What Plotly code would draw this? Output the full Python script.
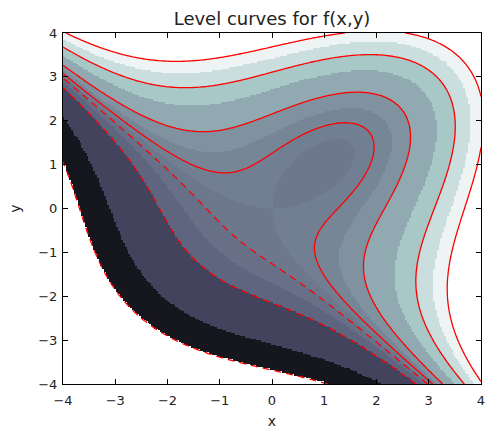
import numpy as np
import plotly.graph_objects as go

# ---- data ----
x_min, x_max, n_pts = -4.0, 4.0, 241
fill_levels = [-50, -30, -10, -5, -2, 0, 2, 5, 10, 20, 30, 40, 50]
line_levels = [-50, -10, -2, 2, 10, 30, 50]
x_ticks = [-4, -3, -2, -1, 0, 1, 2, 3, 4]
y_ticks = [-4, -3, -2, -1, 0, 1, 2, 3, 4]
title_text = "Level curves for f(x,y)"

xs = np.linspace(x_min, x_max, n_pts)
ys = np.linspace(x_min, x_max, n_pts)
X, Y = np.meshgrid(xs, ys)
Z = X**3 + Y**3 - 3 * X * Y

# ---- bone colormap ----
def _interp(t, pts):
    px = [p[0] for p in pts]
    py = [p[1] for p in pts]
    return float(np.interp(t, px, py))

def bone(t):
    r = _interp(t, [(0, 0), (0.746032, 0.652778), (1, 1)])
    g = _interp(t, [(0, 0), (0.365079, 0.319444), (0.746032, 0.777778), (1, 1)])
    b = _interp(t, [(0, 0), (0.365079, 0.444444), (1, 1)])
    return "rgb(%d,%d,%d)" % (round(r * 255), round(g * 255), round(b * 255))

vmin, vmax = fill_levels[0], fill_levels[-1]
colorscale = []
for a, b in zip(fill_levels[:-1], fill_levels[1:]):
    mid = 0.5 * (a + b)
    c = bone((mid - vmin) / (vmax - vmin))
    colorscale.append([(a - vmin) / (vmax - vmin), c])
    colorscale.append([(b - vmin) / (vmax - vmin), c])

Zf = np.where((Z < vmin) | (Z > vmax), np.nan, Z)

fig = go.Figure()
fig.add_trace(go.Heatmap(
    x=xs, y=ys, z=Zf, zmin=vmin, zmax=vmax, colorscale=colorscale,
    zsmooth=False, showscale=False, hoverinfo="skip"))

for L in line_levels:
    fig.add_trace(go.Contour(
        x=xs, y=ys, z=Z, autocontour=False,
        contours=dict(start=L, end=L, size=1, coloring="lines", showlabels=False),
        colorscale=[[0, "red"], [1, "red"]], showscale=False,
        line=dict(width=1.3, dash="7px,5px" if L < 0 else "solid"),
        hoverinfo="skip"))

axis_common = dict(
    showgrid=False, zeroline=False, ticks="inside", ticklen=5, tickwidth=1,
    tickcolor="black", showline=True, linecolor="black", linewidth=1,
    mirror="ticks", tickfont=dict(family="DejaVu Sans", size=13, color="#222"),
    ticklabeloverflow="allow",
)

fig.update_layout(
    width=487, height=429,
    margin=dict(l=63, r=6, t=33, b=45, autoexpand=False),
    paper_bgcolor="white", plot_bgcolor="white",
    font=dict(family="DejaVu Sans", color="#222"),
    title=dict(text=title_text, x=0.5, xanchor="center", y=0.956, yanchor="middle",
               xref="paper",
               font=dict(family="DejaVu Sans", size=18, color="#222")),
    xaxis=dict(range=[-4, 4], tickvals=x_ticks, ticklabelstandoff=4,
               title=dict(text="x", font=dict(size=14), standoff=12),
               **axis_common),
    yaxis=dict(range=[-4, 4], tickvals=y_ticks, ticklabelstandoff=2,
               title=dict(text="y", font=dict(size=14), standoff=14),
               **axis_common),
    showlegend=False,
)

fig.write_html("out.html", config={"displayModeBar": False},
               post_script="document.body.style.margin='0px';")
